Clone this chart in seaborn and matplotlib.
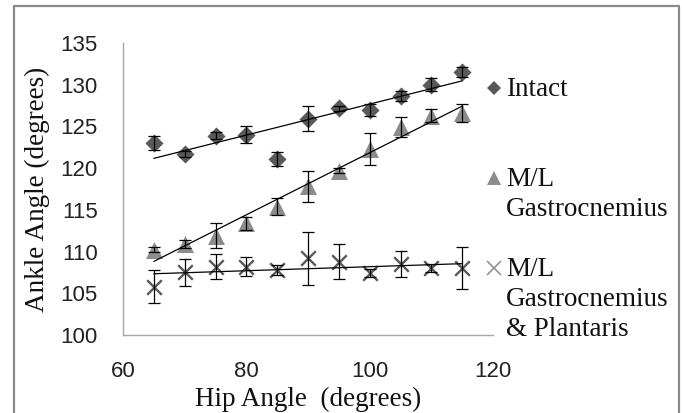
import numpy as np
import pandas as pd
import matplotlib
matplotlib.use("Agg")
import matplotlib.pyplot as plt
from matplotlib.lines import Line2D
import seaborn as sns

# ---- data ----
hip_angle = [65, 70, 75, 80, 85, 90, 95, 100, 105, 110, 115]
intact = [123.0, 121.7, 123.9, 124.0, 121.1, 125.9, 127.2, 127.0, 128.7, 130.0, 131.5]
intact_err = [0.8, 0.4, 0.4, 1.0, 0.8, 1.5, 0.3, 0.7, 0.6, 0.8, 0.6]
gastro = [110.2, 110.9, 111.9, 113.4, 115.4, 117.8, 119.7, 122.3, 124.9, 126.3, 126.6]
gastro_err = [0.3, 0.5, 1.5, 0.8, 1.0, 1.8, 0.3, 1.9, 1.2, 0.8, 1.1]
gp = [105.8, 107.5, 108.2, 108.2, 107.8, 109.2, 108.8, 107.4, 108.5, 108.0, 108.0]
gp_err = [2.0, 1.6, 1.5, 1.1, 0.6, 3.2, 2.1, 0.5, 1.6, 0.5, 2.5]
series_labels = ["Intact", "M/L\nGastrocnemius", "M/L\nGastrocnemius\n& Plantaris"]
x_ticks = [60, 80, 100, 120]
y_ticks = [100, 105, 110, 115, 120, 125, 130, 135]

sns.set_theme(style="white")
plt.rcParams['font.family'] = ['Liberation Serif', 'DejaVu Serif']

fig = plt.figure(figsize=(6.82, 4.13), dpi=100)
ax = fig.add_axes([123 / 682, 78 / 413, (493 - 123) / 682, (335 - 43) / 413])

dark = "#595959"
mid = "#8c8c8c"

series = [
    (intact, intact_err, "D", dark, 85),
    (gastro, gastro_err, "^", mid, 150),
    (gp, gp_err, "x", dark, 110),
]

for vals, errs, mk, col, s in series:
    df = pd.DataFrame({"hip": hip_angle, "ankle": vals})
    if mk == "x":
        sns.scatterplot(data=df, x="hip", y="ankle", marker=mk, s=s, color=col,
                        linewidth=1.7, ax=ax, zorder=2, legend=False)
    else:
        sns.scatterplot(data=df, x="hip", y="ankle", marker=mk, s=s, color=col,
                        edgecolor=col, linewidth=0, ax=ax, zorder=2, legend=False)
    ax.errorbar(hip_angle, vals, yerr=errs, fmt="none", ecolor="black",
                elinewidth=0.9, capsize=4, capthick=0.9, zorder=3)
    sns.regplot(data=df, x="hip", y="ankle", scatter=False, ci=None, ax=ax,
                line_kws=dict(color="black", lw=0.9, zorder=4))

ax.set_xlim(60, 120)
ax.set_ylim(100, 135)
ax.set_xticks(x_ticks)
ax.set_yticks(y_ticks)
ax.tick_params(axis="both", length=0, labelsize=16, colors="#222222")
ax.tick_params(axis="x", pad=19)
ax.tick_params(axis="y", pad=18)
for lab in ax.get_xticklabels() + ax.get_yticklabels():
    lab.set_family(["Liberation Sans", "DejaVu Sans"])

for side in ["top", "right"]:
    ax.spines[side].set_visible(False)
for side in ["left", "bottom"]:
    ax.spines[side].set_color("#a6a6a6")
    ax.spines[side].set_linewidth(1.0)

ax.set_xlabel("Hip Angle  (degrees)", fontsize=19.5, color="#111111", labelpad=3)
ax.set_ylabel("Ankle Angle (degrees)", fontsize=19.5, color="#111111", labelpad=8)

# legend (manual, Excel style: marker aligned with first line)
leg_markers = [("D", dark, 7.5, 0), ("^", mid, 10, 0), ("x", mid, 10, 1.1)]
first_line_y = [88, 178, 268]
for (mk, col, ms, mew), lab, ypx in zip(leg_markers, series_labels, first_line_y):
    yf = 1 - ypx / 413
    fig.add_artist(Line2D([494 / 682], [yf], transform=fig.transFigure,
                          marker=mk, color=col, markersize=ms,
                          markeredgewidth=mew if mew else 0, linestyle="none"))
    fig.text(506 / 682, yf + 11 / 413, lab, fontsize=19.5, va="top", ha="left",
             color="#111111", linespacing=1.27)

# outer chart-area border
bc = "#8a8a8a"
fig.add_artist(Line2D([14 / 682, 14 / 682], [0, 1 - 6 / 413], transform=fig.transFigure, color=bc, lw=1.6))
fig.add_artist(Line2D([14 / 682, 679 / 682], [1 - 6 / 413, 1 - 6 / 413], transform=fig.transFigure, color=bc, lw=1.6))
fig.add_artist(Line2D([679 / 682, 679 / 682], [0, 1 - 6 / 413], transform=fig.transFigure, color=bc, lw=1.6))

fig.savefig("out.png", dpi=100)
